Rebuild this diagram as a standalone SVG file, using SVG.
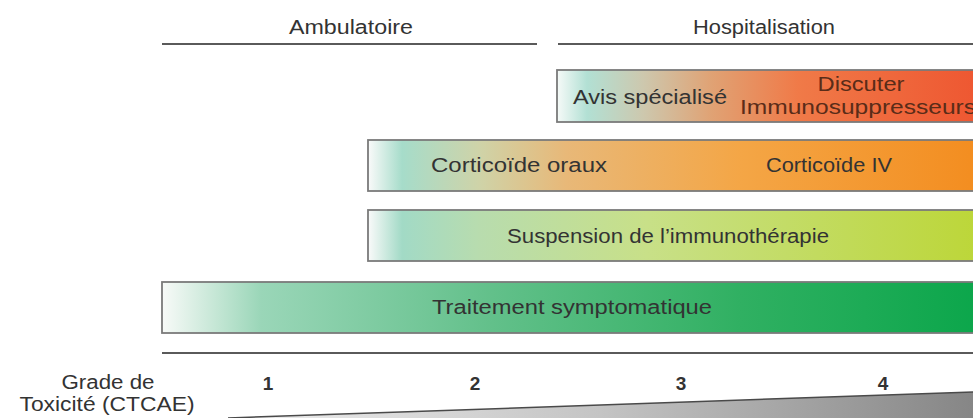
<svg xmlns="http://www.w3.org/2000/svg" width="973" height="418" viewBox="0 0 973 418">
<style>
text{font-family:"Liberation Sans",Arial,Helvetica,sans-serif;font-size:20px;fill:#333}
.box{stroke:#7a7a7a;stroke-width:1.8}
.rule{stroke:#5a5a5a;stroke-width:2;fill:none}
.num{font-weight:bold;font-size:19px;fill:#333}
.warm{fill:#5a2c18}
</style>
<defs>
<linearGradient id="gAvis" x1="0" y1="0" x2="1" y2="0">
<stop offset="0" stop-color="#f6faf8"/>
<stop offset="0.07" stop-color="#b2e0d4"/>
<stop offset="0.2" stop-color="#cdc8ae"/>
<stop offset="0.36" stop-color="#e0a274"/>
<stop offset="0.56" stop-color="#f07a48"/>
<stop offset="1" stop-color="#ee5530"/>
</linearGradient>
<linearGradient id="gCort" x1="0" y1="0" x2="1" y2="0">
<stop offset="0" stop-color="#fafafa"/>
<stop offset="0.055" stop-color="#a6dcca"/>
<stop offset="0.18" stop-color="#cfd3a8"/>
<stop offset="0.32" stop-color="#e8b878"/>
<stop offset="0.6" stop-color="#f4a646"/>
<stop offset="1" stop-color="#f38c1e"/>
</linearGradient>
<linearGradient id="gSusp" x1="0" y1="0" x2="1" y2="0">
<stop offset="0" stop-color="#fafafa"/>
<stop offset="0.055" stop-color="#a2dac6"/>
<stop offset="0.18" stop-color="#b8dcae"/>
<stop offset="0.45" stop-color="#c8e088"/>
<stop offset="1" stop-color="#bcd636"/>
</linearGradient>
<linearGradient id="gTrait" x1="0" y1="0" x2="1" y2="0">
<stop offset="0" stop-color="#f8faf8"/>
<stop offset="0.12" stop-color="#9ad6b8"/>
<stop offset="0.4" stop-color="#62c08a"/>
<stop offset="0.7" stop-color="#30b062"/>
<stop offset="1" stop-color="#0aa64a"/>
</linearGradient>
<linearGradient id="gWedge" x1="0" y1="0" x2="1" y2="0">
<stop offset="0" stop-color="#eeeeee"/>
<stop offset="0.5" stop-color="#c4c4c4"/>
<stop offset="1" stop-color="#868686"/>
</linearGradient>
</defs>

<g id="headers">
<text x="351" y="34" text-anchor="middle" textLength="124" lengthAdjust="spacingAndGlyphs">Ambulatoire</text>
<text x="764" y="34" text-anchor="middle" textLength="142" lengthAdjust="spacingAndGlyphs">Hospitalisation</text>
</g>

<g id="lines">
<line class="rule" x1="162" y1="44" x2="537" y2="44"/>
<line class="rule" x1="558" y1="44" x2="973" y2="44"/>
<line class="rule" x1="162" y1="353" x2="973" y2="353"/>
</g>

<g id="node-avis">
<rect class="box" x="557" y="70" width="430" height="52" fill="url(#gAvis)"/>
<text x="650" y="104" text-anchor="middle" textLength="154" lengthAdjust="spacingAndGlyphs">Avis spécialisé</text>
<text class="warm" x="861" y="91" text-anchor="middle" textLength="87" lengthAdjust="spacingAndGlyphs">Discuter</text>
<text class="warm" x="740" y="114" textLength="236" lengthAdjust="spacingAndGlyphs">Immunosuppresseurs</text>
</g>

<g id="node-corticoide">
<rect class="box" x="368" y="140" width="620" height="51" fill="url(#gCort)"/>
<text x="519" y="172" text-anchor="middle" textLength="176" lengthAdjust="spacingAndGlyphs">Corticoïde oraux</text>
<text x="829" y="172" text-anchor="middle" textLength="126" lengthAdjust="spacingAndGlyphs">Corticoïde IV</text>
</g>

<g id="node-suspension">
<rect class="box" x="368" y="210" width="620" height="51" fill="url(#gSusp)"/>
<text x="668" y="243" text-anchor="middle" textLength="322" lengthAdjust="spacingAndGlyphs">Suspension de l’immunothérapie</text>
</g>

<g id="node-traitement">
<rect class="box" x="162" y="282" width="826" height="51" fill="url(#gTrait)"/>
<text x="572" y="314" text-anchor="middle" textLength="280" lengthAdjust="spacingAndGlyphs">Traitement symptomatique</text>
</g>

<g id="grade-axis">
<text x="108" y="389" text-anchor="middle" textLength="93" lengthAdjust="spacingAndGlyphs">Grade de</text>
<text x="107" y="411" text-anchor="middle" textLength="175" lengthAdjust="spacingAndGlyphs">Toxicité (CTCAE)</text>
<text class="num" x="268" y="390" text-anchor="middle">1</text>
<text class="num" x="475" y="390" text-anchor="middle">2</text>
<text class="num" x="681" y="390" text-anchor="middle">3</text>
<text class="num" x="883" y="390" text-anchor="middle">4</text>
<polygon points="228,418 973,392 973,418" fill="url(#gWedge)"/>
<line x1="228" y1="418" x2="973" y2="392" stroke="#4a4a4a" stroke-width="1.5"/>
</g>
</svg>
